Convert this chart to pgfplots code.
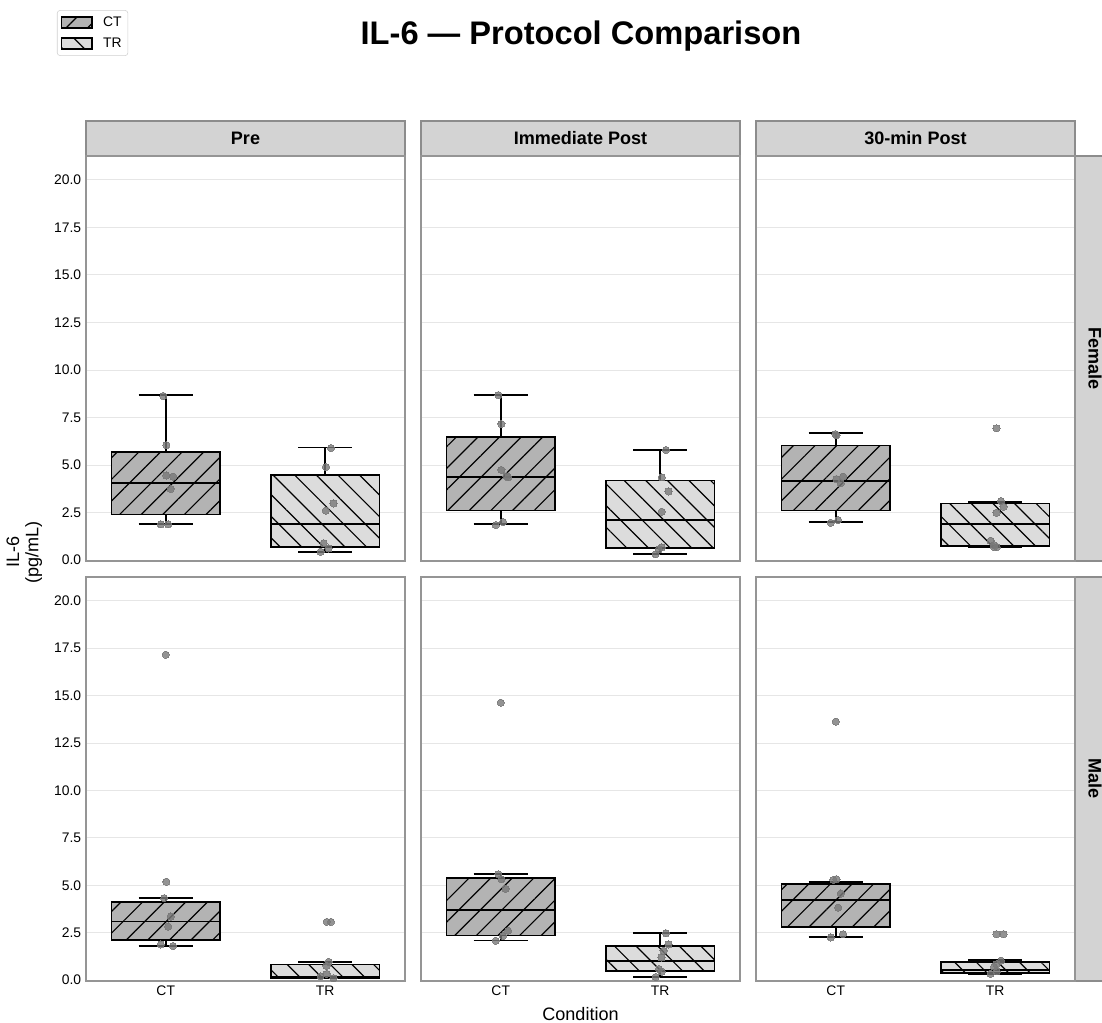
\documentclass[border=0pt]{standalone}
\usepackage{pgfplots}
\pgfplotsset{compat=1.18}
\usepgfplotslibrary{statistics}
\usetikzlibrary{patterns.meta}
\usepackage{fontspec}
\setmainfont{Liberation Sans}
\definecolor{ctfill}{HTML}{B3B3B3}
\definecolor{trfill}{HTML}{DCDCDC}
\definecolor{stripfill}{HTML}{D3D3D3}
\definecolor{stripedge}{HTML}{8C8C8C}
\definecolor{axgray}{HTML}{959595}
\definecolor{gridgray}{HTML}{E6E6E6}
\definecolor{ptgray}{HTML}{787878}
\definecolor{leggray}{HTML}{D0D0D0}
\pgfplotsset{
  panel/.style={scale only axis, width=229.68pt, height=291.6pt,
    xmin=-0.5, xmax=1.5, ymin=-0.05, ymax=21.26,
    axis line style={draw=axgray, line width=1pt},
    ytick={0,2.5,5,7.5,10,12.5,15,17.5,20},
    xtick={0,1}, xticklabels={CT,TR},
    ymajorgrids, grid style={draw=gridgray, line width=0.7pt},
    major tick length=0pt,
    tick label style={font=\fontsize{10}{12}\selectfont},
    yticklabel style={/pgf/number format/.cd, fixed, fixed zerofill, precision=1, assume math mode=true},
  },
  bxcommon/.style={draw=black, line width=1.1pt, boxplot/draw direction=y, boxplot/box extend=0.68, boxplot/whisker extend=0.34,
    boxplot/every median/.style={draw=black, line width=1.3pt},
    boxplot/every whisker/.style={draw=black, line width=1.2pt}},
  ctbox/.style={bxcommon,
    boxplot/every box/.style={fill=ctfill, line width=1.2pt, postaction={pattern={Lines[angle=45,distance=11pt,line width=0.85pt]}, pattern color=black}}},
  trbox/.style={bxcommon,
    boxplot/every box/.style={fill=trfill, line width=1.2pt, postaction={pattern={Lines[angle=-45,distance=11pt,line width=0.85pt]}, pattern color=black}}},
  pts/.style={only marks, mark=*, mark size=2.6pt, opacity=0.8, mark options={solid, fill=ptgray, draw=ptgray, line width=0pt}},
}
\begin{document}
\begin{tikzpicture}
\useasboundingbox (0,0) rectangle (793.44pt,736.56pt);
% strips
\draw[fill=stripfill, draw=stripedge, line width=1pt] (61.92pt,624.24pt) rectangle ++(229.68pt,25.2pt);
\draw[fill=stripfill, draw=stripedge, line width=1pt] (303.12pt,624.24pt) rectangle ++(229.68pt,25.2pt);
\draw[fill=stripfill, draw=stripedge, line width=1pt] (544.32pt,624.24pt) rectangle ++(229.68pt,25.2pt);
\draw[fill=stripfill, draw=stripedge, line width=1pt] (774pt,332.64pt) rectangle (815pt,624.24pt);
\draw[fill=stripfill, draw=stripedge, line width=1pt] (774pt,30.24pt) rectangle (815pt,321.12pt);

% ---------- Row 1: Female ----------
\begin{axis}[panel, at={(61.92pt,332.64pt)}, anchor=south west, xticklabels={},
  legend style={at={(-0.091,1.360)}, anchor=north west, draw=leggray, rounded corners=2pt,
    font=\fontsize{10}{12}\selectfont, inner sep=2.5pt, row sep=2.6pt, cells={anchor=west}},
  legend cell align=left]
\addlegendimage{legend image code/.code={\draw[sharp corners, draw=black, line width=1.1pt, fill=ctfill, postaction={pattern={Lines[angle=45,distance=11pt,line width=0.85pt]}, pattern color=black}] (0pt,-4pt) rectangle (22pt,4pt); \path[draw=none, fill=none] (0pt,0pt) -- (28pt,0pt);}}
\addlegendentry{CT}
\addlegendimage{legend image code/.code={\draw[sharp corners, draw=black, line width=1.1pt, fill=trfill, postaction={pattern={Lines[angle=-45,distance=11pt,line width=0.85pt]}, pattern color=black}] (0pt,-4pt) rectangle (22pt,4pt); \path[draw=none, fill=none] (0pt,0pt) -- (28pt,0pt);}}
\addlegendentry{TR}
\addplot[ctbox, boxplot prepared={draw position=0, lower whisker=1.88, lower quartile=2.39, median=4.07, upper quartile=5.68, upper whisker=8.67}] coordinates {};
\addplot[trbox, boxplot prepared={draw position=1, lower whisker=0.44, lower quartile=0.68, median=1.89, upper quartile=4.46, upper whisker=5.93}] coordinates {};
\addplot[pts] coordinates {(-0.015,8.63) (0.004,6.05) (0.004,4.45) (0.046,4.39) (0.031,3.74) (-0.031,1.88) (0.015,1.88)};
\addplot[pts] coordinates {(1.036,5.89) (1.004,4.89) (1.052,2.98) (1.004,2.60) (0.990,0.88) (1.021,0.61) (0.971,0.44)};
\end{axis}

\begin{axis}[panel, at={(303.12pt,332.64pt)}, anchor=south west, xticklabels={}, yticklabels={}]
\addplot[ctbox, boxplot prepared={draw position=0, lower whisker=1.88, lower quartile=2.61, median=4.35, upper quartile=6.49, upper whisker=8.70}] coordinates {};
\addplot[trbox, boxplot prepared={draw position=1, lower whisker=0.33, lower quartile=0.63, median=2.12, upper quartile=4.19, upper whisker=5.79}] coordinates {};
\addplot[pts] coordinates {(-0.015,8.68) (0.004,7.16) (0.004,4.74) (0.036,4.42) (0.046,4.35) (0.015,2.00) (-0.031,1.84)};
\addplot[pts] coordinates {(1.036,5.79) (1.010,4.35) (1.052,3.61) (1.010,2.54) (1.010,0.67) (0.990,0.56) (0.971,0.30)};
\end{axis}

\begin{axis}[panel, at={(544.32pt,332.64pt)}, anchor=south west, xticklabels={}, yticklabels={}]
\addplot[ctbox, boxplot prepared={draw position=0, lower whisker=2.00, lower quartile=2.61, median=4.18, upper quartile=6.02, upper whisker=6.68}] coordinates {};
\addplot[trbox, boxplot prepared={draw position=1, lower whisker=0.68, lower quartile=0.75, median=1.89, upper quartile=2.98, upper whisker=3.07}] coordinates {};
\addplot[pts] coordinates {(-0.002,6.63) (0.004,6.56) (0.046,4.39) (0.004,4.26) (0.031,4.04) (0.015,2.10) (-0.031,1.96)};
\addplot[pts] coordinates {(1.008,6.93) (1.036,3.10) (1.052,2.81) (1.008,2.49) (0.971,1.02) (0.992,0.79) (1.010,0.68) (0.992,0.68)};
\end{axis}

% ---------- Row 2: Male ----------
\begin{axis}[panel, height=290.88pt, at={(61.92pt,30.24pt)}, anchor=south west]
\addplot[ctbox, boxplot prepared={draw position=0, lower whisker=1.81, lower quartile=2.12, median=3.09, upper quartile=4.12, upper whisker=4.33}] coordinates {};
\addplot[trbox, boxplot prepared={draw position=1, lower whisker=0.08, lower quartile=0.12, median=0.18, upper quartile=0.82, upper whisker=0.96}] coordinates {};
\addplot[pts] coordinates {(0.000,17.16) (0.004,5.19) (-0.010,4.32) (0.031,3.35) (0.015,2.82) (-0.031,1.88) (0.046,1.79)};
\addplot[pts] coordinates {(1.010,3.07) (1.036,3.07) (1.021,0.96) (1.008,0.75) (1.008,0.32) (0.971,0.20) (1.052,0.10)};
\end{axis}

\begin{axis}[panel, height=290.88pt, at={(303.12pt,30.24pt)}, anchor=south west, yticklabels={}]
\addplot[ctbox, boxplot prepared={draw position=0, lower whisker=2.09, lower quartile=2.35, median=3.70, upper quartile=5.37, upper whisker=5.60}] coordinates {};
\addplot[trbox, boxplot prepared={draw position=1, lower whisker=0.16, lower quartile=0.49, median=1.02, upper quartile=1.81, upper whisker=2.49}] coordinates {};
\addplot[pts] coordinates {(0.000,14.63) (-0.015,5.58) (0.004,5.32) (0.031,4.81) (0.046,2.60) (0.015,2.33) (-0.031,2.07)};
\addplot[pts] coordinates {(1.036,2.47) (1.052,1.88) (1.021,1.54) (1.008,1.19) (0.992,0.58) (1.010,0.44) (0.971,0.16)};
\end{axis}

\begin{axis}[panel, height=290.88pt, at={(544.32pt,30.24pt)}, anchor=south west, yticklabels={}]
\addplot[ctbox, boxplot prepared={draw position=0, lower whisker=2.28, lower quartile=2.81, median=4.21, upper quartile=5.05, upper whisker=5.18}] coordinates {};
\addplot[trbox, boxplot prepared={draw position=1, lower whisker=0.33, lower quartile=0.37, median=0.54, upper quartile=0.96, upper whisker=1.04}] coordinates {};
\addplot[pts] coordinates {(0.000,13.63) (0.004,5.32) (-0.015,5.28) (0.031,4.56) (0.015,3.82) (0.046,2.42) (-0.031,2.25)};
\addplot[pts] coordinates {(1.008,2.42) (1.052,2.42) (1.036,1.02) (1.008,0.84) (0.992,0.70) (1.010,0.46) (0.971,0.33)};
\end{axis}

% labels
\node[font=\fontsize{13}{15}\selectfont\bfseries] at (176.76pt,636.84pt) {Pre};
\node[font=\fontsize{13}{15}\selectfont\bfseries] at (417.96pt,636.84pt) {Immediate Post};
\node[font=\fontsize{13}{15}\selectfont\bfseries] at (659.16pt,636.84pt) {30-min Post};
\node[font=\fontsize{13}{15}\selectfont\bfseries, rotate=-90] at (788.4pt,478.4pt) {Female};
\node[font=\fontsize{13}{15}\selectfont\bfseries, rotate=-90] at (788.4pt,175.7pt) {Male};
\node[font=\fontsize{23.5}{27}\selectfont\bfseries] at (418.3pt,710.6pt) {IL-6 — Protocol Comparison};
\node[font=\fontsize{13}{15}\selectfont] at (417.96pt,6.5pt) {Condition};
\node[font=\fontsize{13}{14}\selectfont, rotate=90, align=center] at (17.5pt,339pt) {IL-6\\(pg/mL)};
\end{tikzpicture}
\end{document}
